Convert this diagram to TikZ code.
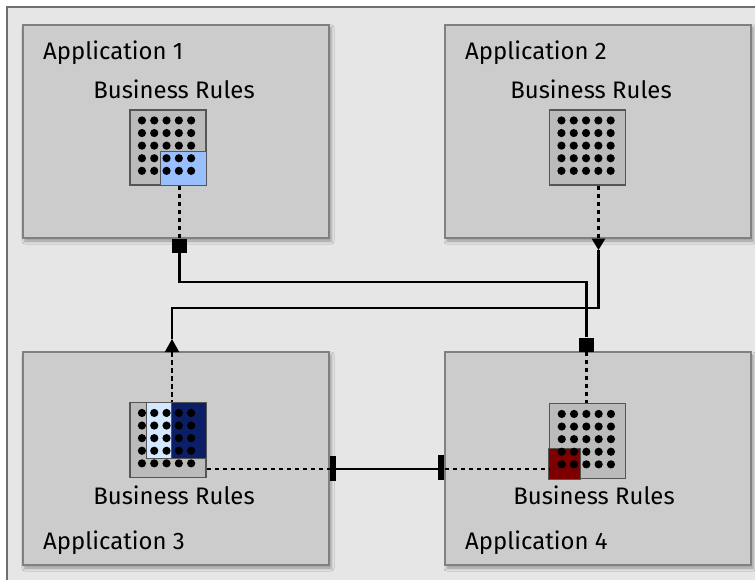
\documentclass[tikz,border=0pt]{standalone}
\usepackage{fontspec}
\setmainfont{Fira Sans}
\usetikzlibrary{shadows.blur,calc}
\definecolor{bgc}{HTML}{E6E6E6}
\definecolor{framec}{HTML}{6E6E6E}
\definecolor{boxc}{HTML}{CCCCCC}
\definecolor{boxline}{HTML}{808080}
\definecolor{iconc}{HTML}{BBBBBB}
\definecolor{iconline}{HTML}{555555}
\definecolor{lblue}{HTML}{99BFFF}
\definecolor{pblue}{HTML}{D4E9FF}
\definecolor{navy}{HTML}{0B1E66}
\definecolor{dred}{HTML}{7D0000}
\begin{document}
\begin{tikzpicture}[x=1bp,y=-1bp,
  appbox/.style={draw=boxline, line width=1.6bp, fill=boxc, minimum width=306bp, minimum height=213bp, inner sep=0pt,
    blur shadow={shadow xshift=2bp, shadow yshift=-3bp, shadow opacity=35, shadow blur radius=3bp}},
  iconbox/.style={draw=iconline, line width=1.1bp, fill=iconc, minimum width=76bp, minimum height=75bp, inner sep=0pt},
  hl/.style={draw=iconline, line width=0.9bp},
  sqr/.style={fill=black, minimum width=15bp, minimum height=14bp, inner sep=0pt},
  barnode/.style={fill=black, minimum width=6bp, minimum height=25bp, inner sep=0pt},
  solidline/.style={line width=2.8bp, black},
  dashline/.style={line width=2.5bp, black, dash pattern=on 4.5bp off 3.5bp},
  lbl/.style={font=\fontsize{24}{28}\selectfont, inner sep=0pt, text=black},
]
\useasboundingbox (0,0) rectangle (755,580);
\fill[white] (0,0) rectangle (755,580);
\fill[bgc] (7,7) rectangle (755,580);
\draw[framec, line width=1.5bp] (7,580) -- (7,7) -- (755,7);

% application boxes
\node[appbox] (a1) at (176,131.5) {};
\node[appbox] (a2) at (598,131.5) {};
\node[appbox] (a3) at (176,458.5) {};
\node[appbox] (a4) at (598,458.5) {};

% labels
\node[lbl, anchor=base west] (n1) at (43,59.5) {Application 1};
\node[lbl, anchor=base west] (n2) at (465,59.5) {Application 2};
\node[lbl, anchor=base west] (n3) at (43,549.7) {Application 3};
\node[lbl, anchor=base west] (n4) at (465,549.7) {Application 4};
\node[lbl, anchor=base] (r1) at (174,99) {Business Rules};
\node[lbl, anchor=base] (r2) at (591,99) {Business Rules};
\node[lbl, anchor=base] (r3) at (174,504.7) {Business Rules};
\node[lbl, anchor=base] (r4) at (594,504.7) {Business Rules};

% icons
\node[iconbox] (i1) at (168,147.5) {};
\node[iconbox] (i2) at (587.5,147.5) {};
\node[iconbox] (i3) at (168,440) {};
\node[iconbox] (i4) at (587.8,441) {};

% highlights
\draw[hl, fill=lblue] ($(i1.north west)+(31,42.3)$) rectangle (i1.south east);
\draw[hl, fill=pblue] ($(i3.north west)+(16.7,0)$) rectangle ($(i3.north west)+(41.7,56.6)$);
\draw[hl, fill=navy] ($(i3.north west)+(41.7,0)$) rectangle ($(i3.north east)+(0,56.6)$);
\draw[hl, fill=dred] ($(i4.south west)+(-1,-30.5)$) rectangle ($(i4.south west)+(30.7,0)$);

% dots
\foreach \ic in {i1,i2,i3,i4}{
  \foreach \i in {0,...,4}{
    \foreach \j in {0,...,4}{
      \fill[black] ($(\ic.north west)+(12.5+12.3*\i,11+12.6*\j)$) circle (4.1bp);
    }
  }
}

% connector 1: App1 -> App4
\node[sqr] (s1) at (179.5,246) {};
\node[sqr] (s4) at (586.7,344.5) {};
\coordinate (j1) at (586.7,282);
\draw[dashline] (s1.north |- i1.south) -- (s1.north);
\draw[solidline] (s1.south) |- (j1) -- (s4.north);
\draw[dashline] (s4.south) -- (s4.south |- i4.north);

% connector 2: App2 -> App3
\coordinate (t2) at (598.5,250);
\coordinate (t2b) at (598.5,239);
\coordinate (t3) at (172,339);
\coordinate (t3b) at (172,352);
\coordinate (j2) at (172,308);
\draw[dashline] (t2b |- i2.south) -- (t2b);
\fill[black] (t2) -- ++(-7,-11.5) -- ++(14,0) -- cycle;
\draw[solidline] (t2) |- (j2) -- (t3);
\fill[black] (t3) -- ++(-7.2,13) -- ++(14.4,0) -- cycle;
\draw[dashline] (t3b) -- (t3b |- i3.north);

% connector 3: App3 -- App4
\node[barnode] (b3) at (333,468.5) {};
\node[barnode] (b4) at (441.3,467.5) {};
\draw[solidline] (b3.east |- 0,469) -- (b4.west |- 0,469);
\draw[dashline] (i3.east |- 0,469) -- (b3.west |- 0,469);
\draw[dashline] (b4.east |- 0,469) -- (i4.west |- 0,469);
\end{tikzpicture}
\end{document}
